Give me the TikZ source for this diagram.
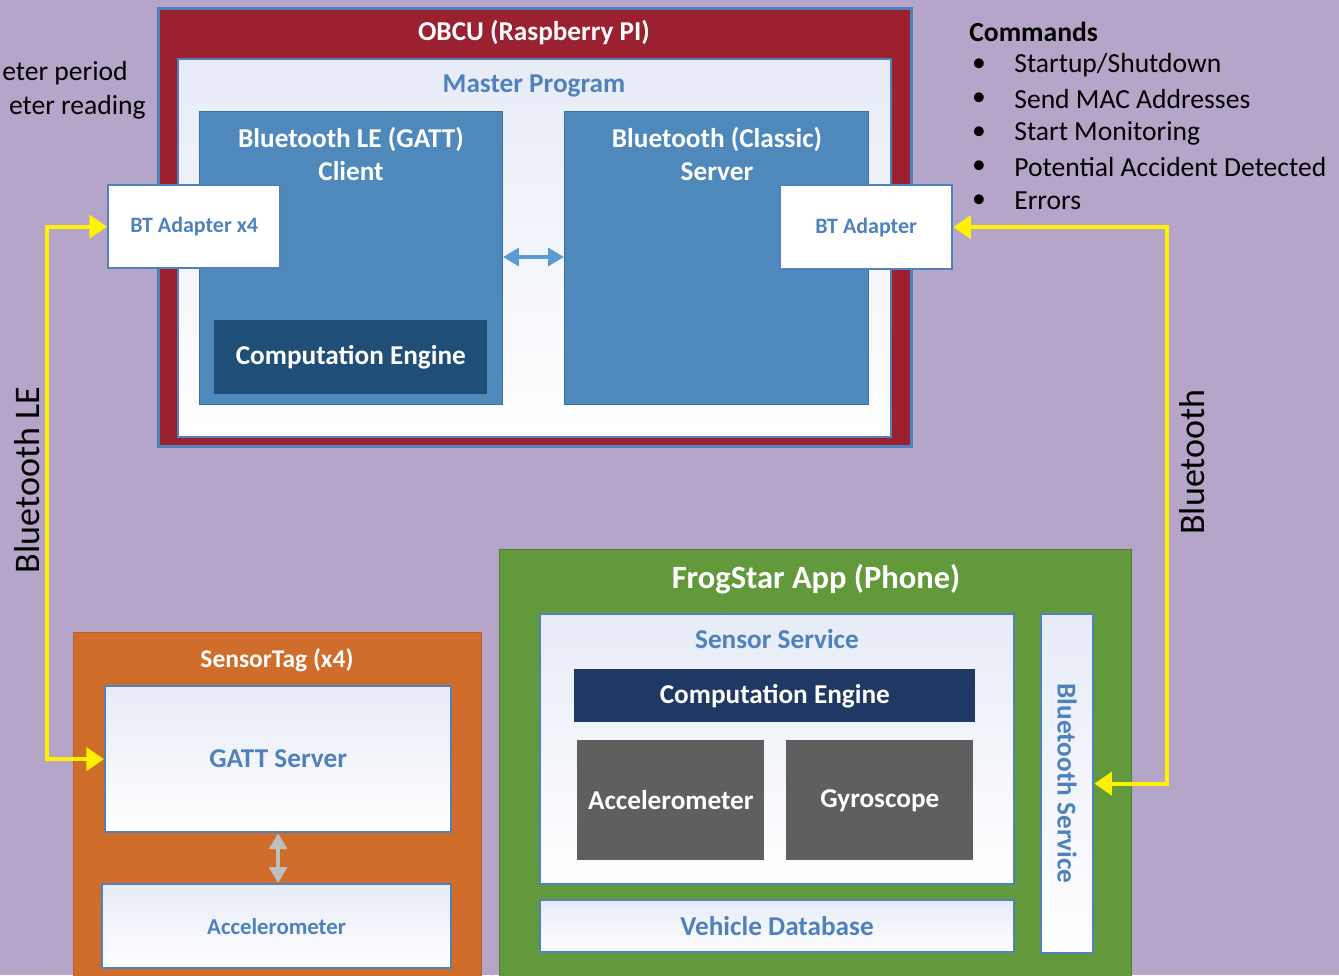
\documentclass[tikz,border=0pt]{standalone}
\usepackage{fontspec}
\setmainfont{Carlito}
\usetikzlibrary{positioning,arrows.meta}

\definecolor{lilac}{RGB}{180,165,201}
\definecolor{obcured}{RGB}{155,32,48}
\definecolor{edgeblue}{RGB}{79,129,189}
\definecolor{midblue}{RGB}{79,136,187}
\definecolor{midedge}{RGB}{62,112,160}
\definecolor{deepblue}{RGB}{31,78,121}
\definecolor{navy}{RGB}{31,56,100}
\definecolor{chipgrey}{RGB}{95,95,95}
\definecolor{phonegreen}{RGB}{98,154,59}
\definecolor{greenedge}{RGB}{80,128,48}
\definecolor{tagorange}{RGB}{208,109,43}
\definecolor{tagedge}{RGB}{185,95,40}
\definecolor{paleblue}{RGB}{230,235,246}
\definecolor{linkblue}{RGB}{91,155,213}
\definecolor{linkgrey}{RGB}{191,191,191}

\begin{document}
\begin{tikzpicture}[x=0.02cm, y=-0.02cm,
    box/.style={rectangle, anchor=north west, inner sep=0pt},
    panel/.style={box, draw=edgeblue, line width=1.3pt, top color=paleblue, bottom color=white},
    bigblock/.style={box, fill=midblue, draw=midedge, line width=0.6pt},
    engine/.style={box, draw=none},
    hd/.style={font=\bfseries\fontsize{15.5}{19}\selectfont, text=white, align=center, inner sep=0pt},
    bluehd/.style={font=\bfseries\fontsize{15.5}{19}\selectfont, text=edgeblue, align=center, inner sep=0pt},
    smallhd/.style={font=\bfseries\fontsize{12.5}{15}\selectfont, text=edgeblue, inner sep=0pt},
    item/.style={font=\fontsize{15.7}{19}\selectfont, inner sep=0pt},
    linklbl/.style={font=\fontsize{20.5}{24}\selectfont, inner sep=0pt},
    radio/.style={yellow, line width=2.3pt, {Triangle[length=10pt, width=13pt]}-{Triangle[length=10pt, width=13pt]}},
    inner/.style={line width=2.2pt, {Triangle[length=9pt, width=10pt]}-{Triangle[length=9pt, width=10pt]}}]

  \fill[lilac] (0,0) rectangle (1339,975);
  \useasboundingbox (0,0) rectangle (1339,975);
  \clip (0,0) rectangle (1339,975);

  % OBCU
  \node[box, fill=obcured, draw=edgeblue, line width=1.7pt, minimum width=15.06cm, minimum height=8.76cm] (obcu) at (157,7) {};
  \node[hd] (obcut) at (534,33) {OBCU (Raspberry PI)};
  \node[panel, minimum width=14.26cm, minimum height=7.56cm] (master) at (177,58) {};
  \node[bluehd] (mastert) at (534,86) {Master Program};
  \node[bigblock, minimum width=6.06cm, minimum height=5.86cm] (client) at (199,111) {};
  \node[hd] (clientt) at (351,154) {Bluetooth LE (GATT)\\Client};
  \node[engine, fill=deepblue, minimum width=5.46cm, minimum height=1.48cm] (obcuce) at (214,320) {};
  \node[hd] at (obcuce) {Computation Engine};
  \node[bigblock, minimum width=6.08cm, minimum height=5.86cm] (server) at (564,111) {};
  \node[hd] (servert) at (717,154) {Bluetooth (Classic)\\Server};
  \node[box, fill=white, draw=edgeblue, line width=1.3pt, minimum width=3.44cm, minimum height=1.66cm] (adapt4) at (107,184) {};
  \node[smallhd] at (adapt4) {BT Adapter x4};
  \node[box, fill=white, draw=edgeblue, line width=1.3pt, minimum width=3.44cm, minimum height=1.68cm] (adapt) at (779,184) {};
  \node[smallhd] at (adapt) {BT Adapter};
  \draw[inner, linkblue] (client.east |- 0,257) -- (server.west |- 0,257);

  % notes
  \node[item, anchor=east] (note1) at (128,73) {eter period};
  \node[item, anchor=east] (note2) at (146,107) {eter reading};
  \node[item, anchor=west, font=\bfseries\fontsize{15.7}{19}\selectfont] (cmds) at (969,32) {Commands};
  \foreach \txt [count=\i] in {Startup/Shutdown, Send MAC Addresses, Start Monitoring, Potential Accident Detected, Errors}{
    \node[item] (dot\i) at (979, 31+34*\i) {\textbullet};
    \node[item, anchor=west] (cmd\i) at (1014, 31+34*\i) {\txt};
  }

  % SensorTag
  \node[box, fill=tagorange, draw=tagedge, line width=0.8pt, minimum width=8.16cm, minimum height=7cm] (tag) at (73,632) {};
  \node[hd, font=\bfseries\fontsize{14.5}{18}\selectfont] (tagt) at (277,660) {SensorTag (x4)};
  \node[panel, minimum width=6.92cm, minimum height=2.92cm] (gatt) at (104,685) {};
  \node[bluehd] at (gatt) {GATT Server};
  \node[panel, minimum width=6.98cm, minimum height=1.68cm] (tagacc) at (101,883) {};
  \node[smallhd, font=\bfseries\fontsize{13}{15}\selectfont] at (tagacc) {Accelerometer};
  \draw[inner, linkgrey] (gatt.south) -- (gatt.south |- tagacc.north);

  % FrogStar App
  \node[box, fill=phonegreen, draw=greenedge, line width=0.8pt, minimum width=12.64cm, minimum height=8.6cm] (phone) at (499,549) {};
  \node[hd, font=\bfseries\fontsize{18.5}{22}\selectfont] (phonet) at (816,579) {FrogStar App (Phone)};
  \node[panel, minimum width=9.48cm, minimum height=5.4cm] (sensor) at (539,613) {};
  \node[bluehd] (sensort) at (777,639) {Sensor Service};
  \node[engine, fill=navy, minimum width=8.02cm, minimum height=1.06cm] (phonece) at (574,669) {};
  \node[hd] at (phonece) {Computation Engine};
  \node[engine, fill=chipgrey, minimum width=3.74cm, minimum height=2.4cm] (accel) at (577,740) {};
  \node[hd] at (accel) {Accelerometer};
  \node[engine, fill=chipgrey, minimum width=3.74cm, minimum height=2.4cm] (gyro) at (786,740) {};
  \node[hd] at (gyro) {Gyroscope};
  \node[panel, minimum width=9.48cm, minimum height=1.04cm] (vehdb) at (539,899) {};
  \node[bluehd] at (vehdb) {Vehicle Database};
  \node[panel, minimum width=1.04cm, minimum height=6.78cm] (btsvc) at (1040,613) {};
  \node[bluehd, rotate=-90] at (btsvc) {Bluetooth Service};

  % radio links
  \draw[radio] (adapt4.west) -- ++(-60,0) |- (gatt.west);
  \node[linklbl, rotate=90] (blelbl) at (27,480) {Bluetooth LE};
  \draw[radio] (adapt.east) -- ++(214,0) |- (btsvc.east);
  \node[linklbl, rotate=90] (btlbl) at (1192,462) {Bluetooth};
\end{tikzpicture}
\end{document}
